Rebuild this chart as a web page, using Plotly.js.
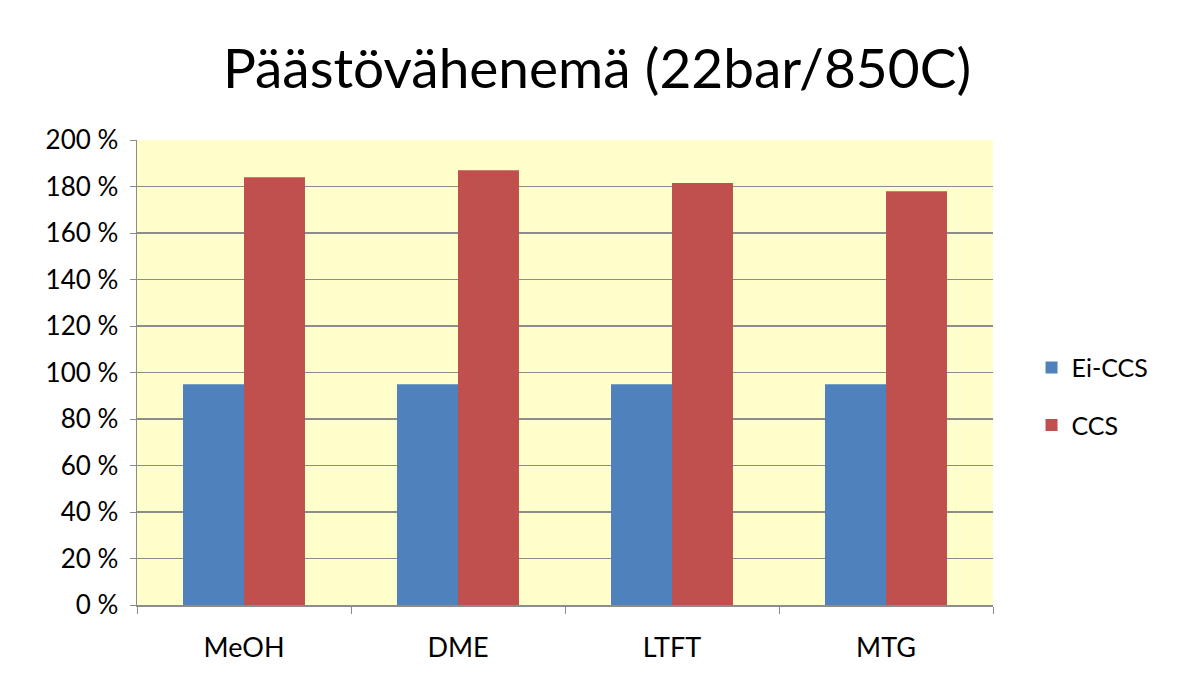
<!DOCTYPE html>
<html><head><meta charset="utf-8">
<script src="https://cdn.plot.ly/plotly-3.0.1.min.js"></script>
<style>html,body{margin:0;padding:0;background:#fff}#chart{width:1194px;height:689px}</style>
</head><body><div id="chart"></div>
<script>
const categories = ["MeOH", "DME", "LTFT", "MTG"];
const eiCCS = [95, 95, 95, 95];
const ccs = [184, 187, 181.5, 178];
const seriesNames = ["Ei-CCS", "CCS"];
const yTicks = [0, 20, 40, 60, 80, 100, 120, 140, 160, 180, 200];
const yTickText = yTicks.map(v => v + " %");

const font = "Lato, 'Open Sans', sans-serif";
const data = [
  {type: "bar", name: seriesNames[0], x: categories, y: eiCCS, marker: {color: "#4F81BD"}, legendgroup: "a"},
  {type: "bar", name: seriesNames[1], x: categories, y: ccs, marker: {color: "#C0504D"}, legendgroup: "b"}
];
const layout = {
  width: 1194, height: 689,
  paper_bgcolor: "#ffffff", plot_bgcolor: "#FFFFCC",
  margin: {l: 137, r: 201, t: 140, b: 84},
  barmode: "group", bargap: 0.43, bargroupgap: 0,
  title: {text: "Päästövähenemä (22bar/850C)", font: {family: font, size: 55, color: "#000"}, x: 0.5, xanchor: "center", y: 0.9, yanchor: "middle"},
  font: {family: font, color: "#000"},
  xaxis: {
    tickfont: {family: font, size: 27, color: "#000"},
    showline: true, linecolor: "#8c8c8c", linewidth: 1.5,
    ticks: "outside", tickson: "boundaries", ticklen: 7, tickcolor: "#8c8c8c",
    ticklabelstandoff: 18,
    showgrid: false, fixedrange: true
  },
  yaxis: {
    range: [0, 200], tickmode: "array", tickvals: yTicks, ticktext: yTickText,
    tickfont: {family: font, size: 26, color: "#000"},
    showline: true, linecolor: "#8c8c8c", linewidth: 1.5,
    ticks: "outside", ticklen: 6, tickcolor: "#8c8c8c",
    ticklabelstandoff: 6,
    showgrid: true, gridcolor: "#8c8c8c", gridwidth: 1.5,
    zeroline: false, fixedrange: true
  },
  legend: {x: 1.045, y: 0.449, xanchor: "left", yanchor: "middle", font: {family: font, size: 25, color: "#000"}, traceorder: "grouped", tracegroupgap: 22, itemwidth: 30},
  showlegend: true
};
Plotly.newPlot("chart", data, layout, {staticPlot: true});
</script></body></html>
